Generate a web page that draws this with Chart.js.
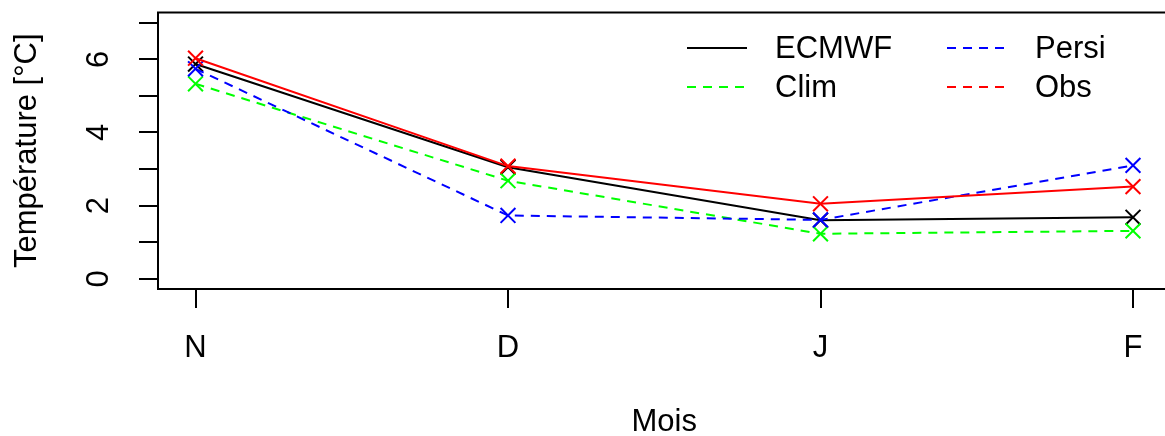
<!DOCTYPE html>
<html>
<head>
<meta charset="utf-8">
<script src="https://cdn.jsdelivr.net/npm/chart.js@4"></script>
<style>
 html, body { margin: 0; padding: 0; background: #fff; overflow: hidden; }
 #wrap { width: 1183px; height: 436px; }
</style>
</head>
<body>
<div id="wrap"><canvas id="tempChart" width="1183" height="436"></canvas></div>
<script>
 // mois (1..4) et valeurs
 const months = ["N", "D", "J", "F"];
 const monthPos = [1, 2, 3, 4];
 const ecmwf = [5.87, 3.05, 1.6, 1.68];
 const clim = [5.33, 2.68, 1.23, 1.31];
 const persi = [5.74, 1.73, 1.61, 3.1];
 const obs = [6.03, 3.08, 2.05, 2.52];
 const yTicks = [0, 1, 2, 3, 4, 5, 6, 7];

 const FONT = "'Liberation Sans', Arial, sans-serif";
 const FSIZE = 31;

 function toPoints(vals) {
 return vals.map((v, i) => ({ x: monthPos[i], y: v }));
 }

 function series(label, vals, color, dash, order) {
 return {
 label: label,
 data: toPoints(vals),
 borderColor: color,
 backgroundColor: color,
 borderWidth: 2,
 borderDash: dash,
 pointStyle: "crossRot",
 pointRadius: 10.5,
 pointHoverRadius: 10.5,
 pointBorderWidth: 2,
 pointBorderColor: color,
 tension: 0,
 order: order
 };
 }

 const datasets = [
 series("ECMWF", ecmwf, "#000000", [], 4),
 series("Clim", clim, "#00ff00", [9, 7], 3),
 series("Persi", persi, "#0000ff", [9, 7], 2),
 series("Obs", obs, "#ff0000", [], 1)
 ];
 // tirets de la légende (Obs est tireté dans la légende)
 const legendDash = [[], [9, 7], [9, 7], [9, 7]];
 // ordre de la légende en 2 colonnes : ECMWF/Clim puis Persi/Obs
 const legendSlots = [
 { i: 0, x: 687, y: 48 }, { i: 1, x: 687, y: 87 },
 { i: 2, x: 947, y: 48 }, { i: 3, x: 947, y: 87 }
 ];

 const boxAndLegend = {
 id: "boxAndLegend",
 afterDraw(chart) {
 const { ctx, chartArea } = chart;
 ctx.save();
 ctx.strokeStyle = "#000";
 ctx.lineWidth = 2;
 ctx.setLineDash([]);
 ctx.strokeRect(chartArea.left, chartArea.top, chartArea.right - chartArea.left, chartArea.bottom - chartArea.top);

 // axe x de R : trait du premier au dernier tick
 const xs = chart.scales.x;
 ctx.beginPath();
 ctx.moveTo(xs.getPixelForValue(monthPos[0]), chartArea.bottom);
 ctx.lineTo(xs.getPixelForValue(monthPos[monthPos.length - 1]), chartArea.bottom);
 ctx.stroke();

 ctx.font = FSIZE + "px " + FONT;
 ctx.textBaseline = "middle";
 ctx.textAlign = "left";
 legendSlots.forEach(s => {
 const ds = chart.data.datasets[s.i];
 ctx.strokeStyle = ds.borderColor;
 ctx.setLineDash(legendDash[s.i]);
 ctx.beginPath();
 ctx.moveTo(s.x, s.y);
 ctx.lineTo(s.x + 60, s.y);
 ctx.stroke();
 ctx.fillStyle = "#000";
 ctx.fillText(ds.label, s.x + 88, s.y + 1);
 });
 ctx.restore();
 }
 };

 const ctx = document.getElementById("tempChart").getContext("2d");
 const tempChart = new Chart(ctx, {
 type: "line",
 data: { datasets: datasets },
 options: {
 responsive: false,
 animation: false,
 devicePixelRatio: 1,
 layout: { padding: { top: 10, left: 0, right: 0, bottom: 0 } },
 plugins: { legend: { display: false }, tooltip: { enabled: false } },
 scales: {
 x: {
 type: "linear",
 min: 0.88,
 max: 4.12,
 afterBuildTicks: s => { s.ticks = monthPos.map(v => ({ value: v })); },
 afterFit: s => { s.height = 147; s.paddingLeft = 0; s.paddingRight = 0; },
 border: { display: false },
 grid: { drawOnChartArea: false, drawTicks: true, tickLength: 19, color: "#000", lineWidth: 2 },
 ticks: {
 color: "#000",
 padding: 22,
 maxRotation: 0,
 font: { family: FONT, size: FSIZE },
 callback: v => months[monthPos.indexOf(v)]
 },
 title: {
 display: true,
 text: "Mois",
 color: "#000",
 font: { family: FONT, size: FSIZE, lineHeight: 1 },
 padding: { top: 0, bottom: -2 }
 }
 },
 y: {
 min: -0.28,
 max: 7.28,
 afterBuildTicks: s => { s.ticks = yTicks.map(v => ({ value: v })); },
 afterFit: s => { s.width = 158; s.paddingTop = 0; s.paddingBottom = 0; },
 border: { display: false },
 grid: { drawOnChartArea: false, drawTicks: true, tickLength: 19, color: "#000", lineWidth: 2 },
 ticks: {
 color: "#000",
 padding: 31,
 minRotation: 90,
 maxRotation: 90,
 crossAlign: "center",
 font: { family: FONT, size: FSIZE },
 callback: v => (v % 2 === 0 ? String(v) : "")
 },
 title: {
 display: true,
 text: "Température [°C]",
 color: "#000",
 font: { family: FONT, size: FSIZE, lineHeight: 1.2 },
 padding: { top: 8.5, bottom: 0 }
 }
 }
 }
 },
 plugins: [boxAndLegend]
 });
</script>
</body>
</html>
